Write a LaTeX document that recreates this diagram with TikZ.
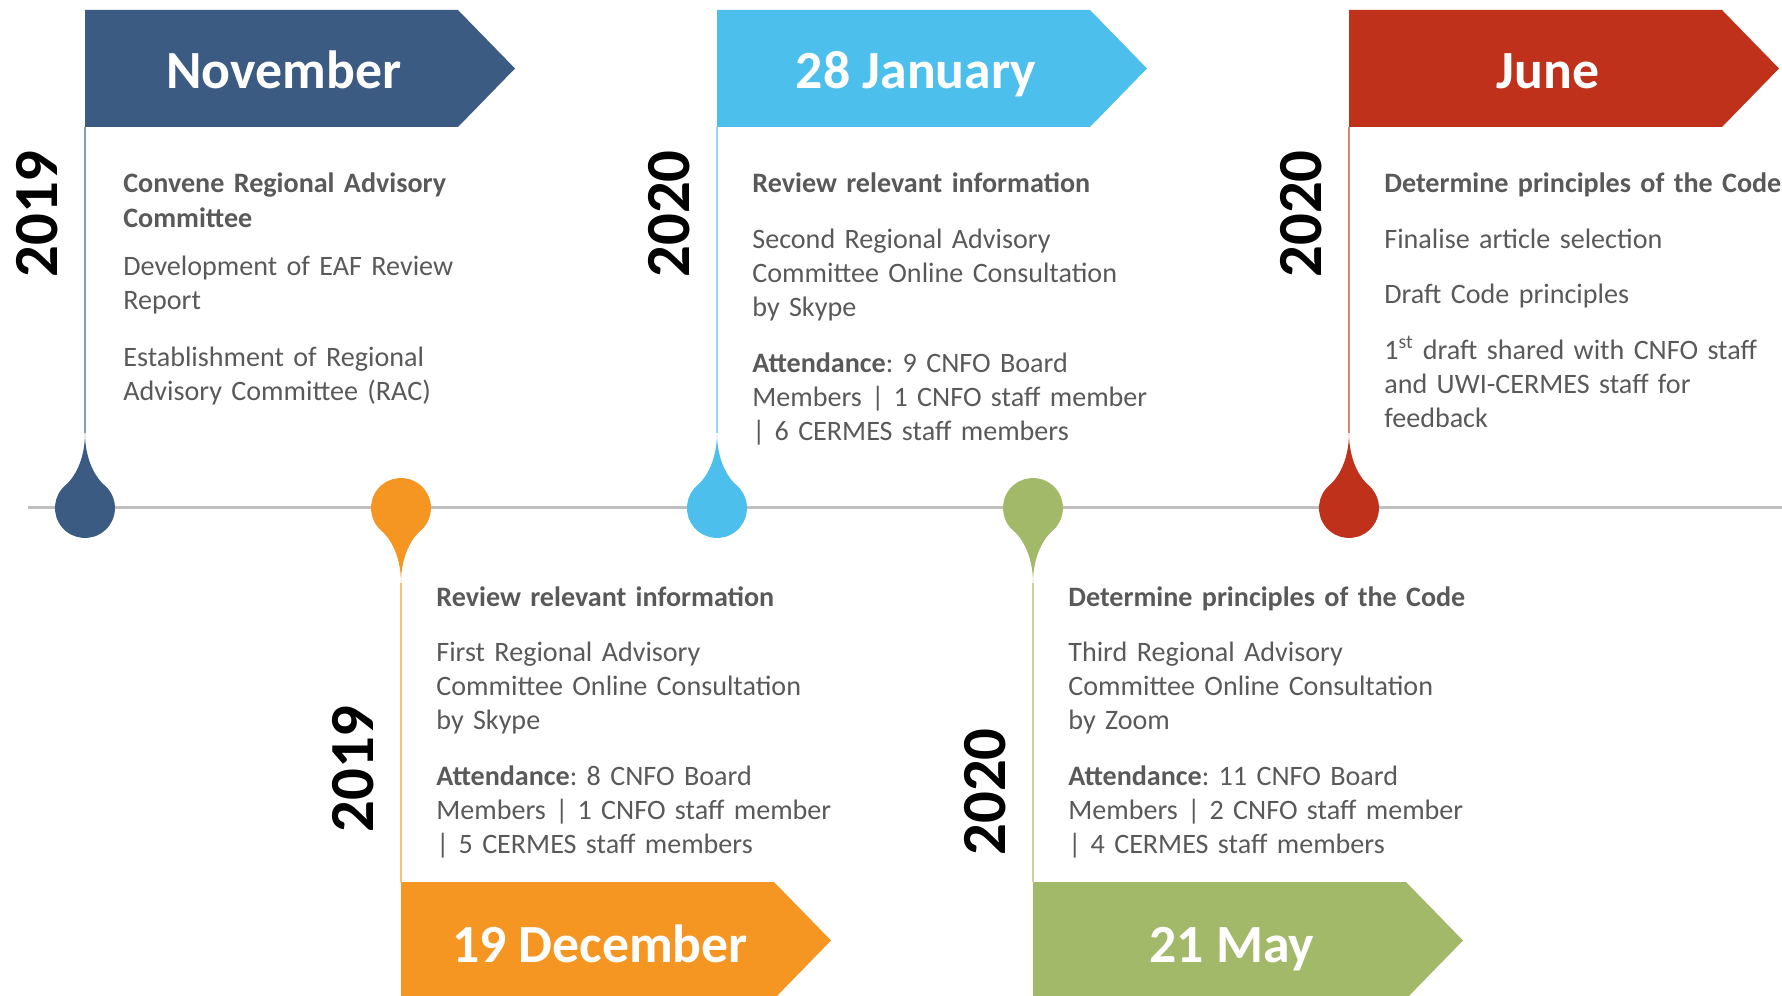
\documentclass[tikz,border=0pt]{standalone}
\usepackage{fontspec}
\setmainfont{Carlito}

\definecolor{novblue}{HTML}{3B5B82}
\definecolor{janblue}{HTML}{4DBFEC}
\definecolor{junred}{HTML}{BF311A}
\definecolor{decorange}{HTML}{F59622}
\definecolor{maygreen}{HTML}{A2B969}
\definecolor{bodygray}{HTML}{595959}
\definecolor{linegray}{HTML}{BFBFBF}

\tikzset{
  month/.style={text=white, font=\fontsize{30.6}{36}\selectfont\bfseries, anchor=base, inner sep=0pt},
  year/.style={font=\fontsize{35.7}{40}\selectfont\bfseries, rotate=90, inner sep=0pt},
  info/.style={text=bodygray, font=\fontsize{16}{19.5}\selectfont\frenchspacing, align=left, text width=9cm, anchor=base west, inner sep=0pt},
  stem/.style={line width=0.035cm},
}

\begin{document}
\begin{tikzpicture}[x=0.02cm,y=0.02cm]
    \useasboundingbox (0,0) rectangle (1782,995);
    % timeline
    \coordinate (start) at (28,487);
    \coordinate (end) at (1782,487);
    \draw[linegray, line width=0.06cm] (start)--(end);

    % November 2019
    \coordinate (novtop) at (85,868);
    \coordinate (novtip) at (85,562);
    \draw[stem, novblue!60] (novtop)--(novtip);
    \fill[novblue, shift={(85,487)}] (0,75) .. controls (0,52) and (-8,33) .. (-19.3,23) arc[start angle=130, end angle=410, radius=30] .. controls (8,33) and (0,52) .. (0,75)--cycle;
    \fill[novblue] (85,985)--(458,985)--(515,926.5)--(458,868)--(85,868)--cycle;
    \node[month] (nov) at (284,906) {November};
    \node[year] (novyear) at (37,781) {2019};
    \node[info] (novinfo) at (123,802) {\textbf{Convene Regional Advisory}\\\textbf{Committee}\\[8pt]Development of EAF Review\\Report\\[12.5pt]Establishment of Regional\\Advisory Committee (RAC)};

    % 19 December 2019
    \coordinate (dectop) at (401,113);
    \coordinate (dectip) at (401,412);
    \draw[stem, decorange!60] (dectop)--(dectip);
    \fill[decorange, shift={(401,487)}] (0,-75) .. controls (0,-52) and (-8,-33) .. (-19.3,-23) arc[start angle=230, end angle=-50, radius=30] .. controls (8,-33) and (0,-52) .. (0,-75)--cycle;
    \fill[decorange] (401,113)--(774,113)--(831,54.5)--(774,-4)--(401,-4)--cycle;
    \node[month] (dec) at (600,33) {19 December};
    \node[year] (decyear) at (353,226) {2019};
    \node[info] (decinfo) at (436,389) {\textbf{Review relevant information}\\[12pt]First Regional Advisory\\Committee Online Consultation\\by Skype\\[12pt]\textbf{Attendance}: 8 CNFO Board\\Members | 1 CNFO staff member\\| 5 CERMES staff members};

    % 28 January 2020
    \coordinate (jantop) at (717,868);
    \coordinate (jantip) at (717,562);
    \draw[stem, janblue!60] (jantop)--(jantip);
    \fill[janblue, shift={(717,487)}] (0,75) .. controls (0,52) and (-8,33) .. (-19.3,23) arc[start angle=130, end angle=410, radius=30] .. controls (8,33) and (0,52) .. (0,75)--cycle;
    \fill[janblue] (717,985)--(1090,985)--(1147,926.5)--(1090,868)--(717,868)--cycle;
    \node[month] (jan) at (916,906) {28 January};
    \node[year] (janyear) at (669,781) {2020};
    \node[info] (janinfo) at (752,802) {\textbf{Review relevant information}\\[12pt]Second Regional Advisory\\Committee Online Consultation\\by Skype\\[12pt]\textbf{Attendance}: 9 CNFO Board\\Members | 1 CNFO staff member\\| 6 CERMES staff members};

    % 21 May 2020
    \coordinate (maytop) at (1033,113);
    \coordinate (maytip) at (1033,412);
    \draw[stem, maygreen!60] (maytop)--(maytip);
    \fill[maygreen, shift={(1033,487)}] (0,-75) .. controls (0,-52) and (-8,-33) .. (-19.3,-23) arc[start angle=230, end angle=-50, radius=30] .. controls (8,-33) and (0,-52) .. (0,-75)--cycle;
    \fill[maygreen] (1033,113)--(1406,113)--(1463,54.5)--(1406,-4)--(1033,-4)--cycle;
    \node[month] (may) at (1232,33) {21 May};
    \node[year] (mayyear) at (985,203) {2020};
    \node[info] (mayinfo) at (1068,389) {\textbf{Determine principles of the Code}\\[12pt]Third Regional Advisory\\Committee Online Consultation\\by Zoom\\[12pt]\textbf{Attendance}: 11 CNFO Board\\Members | 2 CNFO staff member\\| 4 CERMES staff members};

    % June 2020
    \coordinate (juntop) at (1349,868);
    \coordinate (juntip) at (1349,562);
    \draw[stem, junred!60] (juntop)--(juntip);
    \fill[junred, shift={(1349,487)}] (0,75) .. controls (0,52) and (-8,33) .. (-19.3,23) arc[start angle=130, end angle=410, radius=30] .. controls (8,33) and (0,52) .. (0,75)--cycle;
    \fill[junred] (1349,985)--(1722,985)--(1779,926.5)--(1722,868)--(1349,868)--cycle;
    \node[month] (jun) at (1548,906) {June};
    \node[year] (junyear) at (1301,781) {2020};
    \node[info] (juninfo) at (1384,802) {\textbf{Determine principles of the Code}\\[12pt]Finalise article selection\\[12pt]Draft Code principles\\[12pt]1\textsuperscript{st} draft shared with CNFO staff\\and UWI-CERMES staff for\\feedback};
\end{tikzpicture}
\end{document}
